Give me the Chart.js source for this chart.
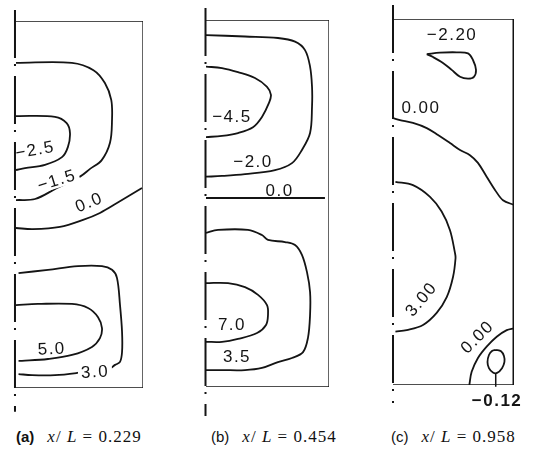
<!DOCTYPE html>
<html lang="en">
<head>
<meta charset="UTF-8">
<title>Contours at three x/L stations</title>
<style>
    body {
        margin: 0;
        background: #fff;
        width: 534px;
        height: 450px;
        position: relative;
        overflow: hidden;
    }
    .panel { position: absolute; top: 0; }
    .cap {
        position: absolute;
        top: 427px;
        font-family: "Liberation Serif", serif;
        font-size: 17px;
        color: #111;
        letter-spacing: 1px;
        white-space: nowrap;
    }
    .cap .tag {
        font-family: "Liberation Sans", sans-serif;
        font-size: 15px;
        margin-right: 13px;
        letter-spacing: 0;
    }
</style>
</head>
<body>
<div class="panel" style="left:0px"><canvas id="pa" width="180" height="425"></canvas></div>
<div class="panel" style="left:180px"><canvas id="pb" width="175" height="425"></canvas></div>
<div class="panel" style="left:355px"><canvas id="pc" width="179" height="425"></canvas></div>

<div class="cap" style="left:16px"><span class="tag"><b>(a)</b></span><i>x</i>/ <i>L</i> = 0.229</div>
<div class="cap" style="left:211px"><span class="tag">(b)</span><i>x</i>/ <i>L</i> = 0.454</div>
<div class="cap" style="left:391px"><span class="tag">(c)</span><i>x</i>/ <i>L</i> = 0.958</div>

<script src="https://cdn.jsdelivr.net/npm/chart.js"></script>
<script>
// contour lines, as [r/R, z/H] pairs (0..1 inside each box)

// (a) x/L = 0.229
const aNeg25 = [[0,0.741],[0.307,0.739],[0.399,0.722],[0.425,0.695],[0.409,0.657],[0.362,0.629],[0.228,0.608],[0.071,0.599],[0,0.594]];
const aNeg15 = [[0,0.886],[0.44,0.886],[0.61,0.866],[0.70,0.831],[0.75,0.785],[0.756,0.73],[0.74,0.668],[0.675,0.621],[0.583,0.597],[0.504,0.576],[0.323,0.545],[0.15,0.515],[0,0.512]];
const aZero = [[0,0.436],[0.134,0.433],[0.346,0.439],[0.528,0.458],[0.661,0.477],[0.795,0.504],[0.992,0.545]];
const aPos30 = [[0.02,0.313],[0.252,0.322],[0.488,0.332],[0.677,0.332],[0.756,0.322],[0.795,0.30],[0.819,0.226],[0.835,0.153],[0.835,0.098],[0.819,0.071],[0.78,0.063],[0.74,0.054],[0.48,0.041],[0.307,0.035],[0.126,0.035],[0.02,0.038]];
const aPos50 = [[0,0.226],[0.173,0.229],[0.441,0.229],[0.567,0.218],[0.646,0.193],[0.677,0.163],[0.661,0.136],[0.598,0.112],[0.441,0.090],[0.252,0.079],[0.047,0.074],[0.02,0.074]];

// (b) x/L = 0.454
const bNeg20 = [[0,0.959],[0.317,0.955],[0.585,0.951],[0.724,0.941],[0.805,0.918],[0.846,0.873],[0.862,0.818],[0.862,0.764],[0.846,0.692],[0.78,0.646],[0.699,0.61],[0.561,0.591],[0.317,0.58],[0.13,0.575],[0,0.573]];
const bNeg45 = [[0,0.873],[0.13,0.869],[0.26,0.858],[0.398,0.842],[0.496,0.818],[0.528,0.796],[0.512,0.774],[0.455,0.736],[0.382,0.708],[0.26,0.692],[0.13,0.684],[0,0.681]];
const bZero = [[0,0.515],[0.967,0.515]];
const bPos35 = [[0,0.42],[0.098,0.428],[0.341,0.428],[0.455,0.414],[0.504,0.401],[0.642,0.395],[0.724,0.387],[0.78,0.36],[0.821,0.313],[0.846,0.259],[0.846,0.196],[0.829,0.134],[0.789,0.095],[0.699,0.079],[0.585,0.068],[0.455,0.052],[0.317,0.046],[0.13,0.046],[0,0.046]];
const bPos70 = [[0,0.283],[0.179,0.283],[0.317,0.272],[0.423,0.251],[0.496,0.223],[0.504,0.196],[0.488,0.169],[0.415,0.147],[0.26,0.131],[0.13,0.123],[0,0.123]];

// (c) x/L = 0.958
const cNeg220 = [[0.279,0.904],[0.388,0.908],[0.526,0.909],[0.62,0.906],[0.661,0.888],[0.686,0.861],[0.669,0.842],[0.62,0.837],[0.554,0.842],[0.485,0.861],[0.413,0.88],[0.331,0.896],[0.279,0.904]];
const cZeroTop = [[0,0.729],[0.058,0.724],[0.165,0.716],[0.279,0.702],[0.372,0.683],[0.471,0.661],[0.554,0.642],[0.636,0.628],[0.702,0.607],[0.774,0.569],[0.843,0.533],[0.909,0.505],[1,0.492]];
const cPos300 = [[0.02,0.555],[0.165,0.546],[0.306,0.514],[0.402,0.474],[0.471,0.423],[0.512,0.361],[0.517,0.347],[0.496,0.295],[0.444,0.24],[0.361,0.197],[0.248,0.164],[0.113,0.15],[0.02,0.146]];
const cZeroLow = [[0.631,0],[0.65,0.036],[0.702,0.074],[0.774,0.105],[0.857,0.132],[0.94,0.15],[1,0.155]];
const cNeg012 = [[0.849,0.096],[0.893,0.092],[0.917,0.079],[0.921,0.063],[0.901,0.046],[0.86,0.033],[0.826,0.034],[0.793,0.046],[0.781,0.063],[0.793,0.082],[0.818,0.093],[0.849,0.096]];
const cLeader = [[0.849,0.033],[0.849,-0.005]];

// frame (top, right, bottom) and the dash-dot symmetry axis
const boxFrame = [[0,1],[1,1],[1,0],[0,0]];
const rightEdge = [[1,1],[1,0]];
const axisA = [[-0.008,1.03],[-0.008,-0.065]];
const axisB = [[-0.004,1.033],[-0.004,-0.079]];
const axisC = [[0,1.038],[0,-0.049]];

// contour labels: text, r, z, rotation (deg)
const labelsA = [
    { t: '\u22122.5', r: 0.15, z: 0.65, rot: -10 },
    { t: '\u22121.5', r: 0.32, z: 0.567, rot: -17, bg: true },
    { t: '0.0', r: 0.575, z: 0.507, rot: -22 },
    { t: '5.0', r: 0.281, z: 0.108, rot: -3 },
    { t: '3.0', r: 0.622, z: 0.045, rot: -3, bg: true }
];
const labelsB = [
    { t: '\u22124.5', r: 0.211, z: 0.738, rot: 0 },
    { t: '\u22122.0', r: 0.382, z: 0.616, rot: 0 },
    { t: '0.0', r: 0.598, z: 0.537, rot: 0 },
    { t: '7.0', r: 0.211, z: 0.172, rot: 0 },
    { t: '3.5', r: 0.252, z: 0.084, rot: 0 }
];
const labelsC = [
    { t: '\u22122.20', r: 0.488, z: 0.959, rot: 0 },
    { t: '0.00', r: 0.231, z: 0.76, rot: 0 },
    { t: '3.00', r: 0.231, z: 0.235, rot: -50 },
    { t: '0.00', r: 0.694, z: 0.132, rot: -45 },
    { t: '\u22120.12', r: 0.86, z: -0.041, rot: 0, bold: true }
];

const ink = '#141414';

function toPts(arr) {
    return arr.map(p => ({ x: p[0], y: p[1] }));
}

function line(arr, extra) {
    return Object.assign({
        data: toPts(arr),
        showLine: true,
        borderColor: ink,
        borderWidth: 1.8,
        pointRadius: 0,
        tension: 0.35,
        fill: false
    }, extra || {});
}

function labelPlugin(items) {
    return {
        id: 'contourLabels',
        afterDatasetsDraw(chart) {
            const ctx = chart.ctx;
            const xs = chart.scales.x, ys = chart.scales.y;
            items.forEach(l => {
                const px = xs.getPixelForValue(l.r);
                const py = ys.getPixelForValue(l.z);
                ctx.save();
                ctx.translate(px, py);
                ctx.rotate(l.rot * Math.PI / 180);
                ctx.font = (l.bold ? 'bold ' : '') + '17px "Liberation Sans", sans-serif';
                ctx.letterSpacing = '1.5px';
                ctx.textAlign = 'center';
                ctx.textBaseline = 'middle';
                if (l.bg) {
                    const w = ctx.measureText(l.t).width;
                    ctx.fillStyle = '#fff';
                    ctx.fillRect(-w / 2 - 3, -8, w + 6, 16);
                }
                ctx.fillStyle = ink;
                ctx.fillText(l.t, 0, 1);
                ctx.restore();
            });
        }
    };
}

function drawPanel(id, curves, extras, labels, axis, pad, thickRight) {
    const datasets = [
        line(boxFrame, { borderWidth: 1.3, tension: 0 }),
        line(axis, { borderWidth: 2, tension: 0, clip: false, borderDash: [48, 6, 2, 10] })
    ];
    if (thickRight) datasets.push(line(rightEdge, { borderWidth: 3, tension: 0 }));
    curves.forEach(c => datasets.push(line(c)));
    extras.forEach(c => datasets.push(line(c, { tension: 0, clip: false, borderWidth: 1.5 })));

    new Chart(document.getElementById(id), {
        type: 'scatter',
        data: { datasets: datasets },
        options: {
            responsive: false,
            animation: false,
            devicePixelRatio: 1,
            layout: { padding: pad },
            plugins: { legend: { display: false }, tooltip: { enabled: false } },
            scales: {
                x: { type: 'linear', min: 0, max: 1, display: false },
                y: { type: 'linear', min: 0, max: 1, display: false }
            }
        },
        plugins: [labelPlugin(labels)]
    });
}

drawPanel('pa', [aNeg25, aNeg15, aZero, aPos30, aPos50], [], labelsA, axisA,
    { left: 16, top: 21, right: 37, bottom: 37 }, false);
drawPanel('pb', [bNeg20, bNeg45, bZero, bPos35, bPos70], [], labelsB, axisB,
    { left: 26, top: 20, right: 26, bottom: 38 }, false);
drawPanel('pc', [cNeg220, cZeroTop, cPos300, cZeroLow, cNeg012], [cLeader], labelsC, axisC,
    { left: 38, top: 19, right: 20, bottom: 40 }, true);
</script>
</body>
</html>
